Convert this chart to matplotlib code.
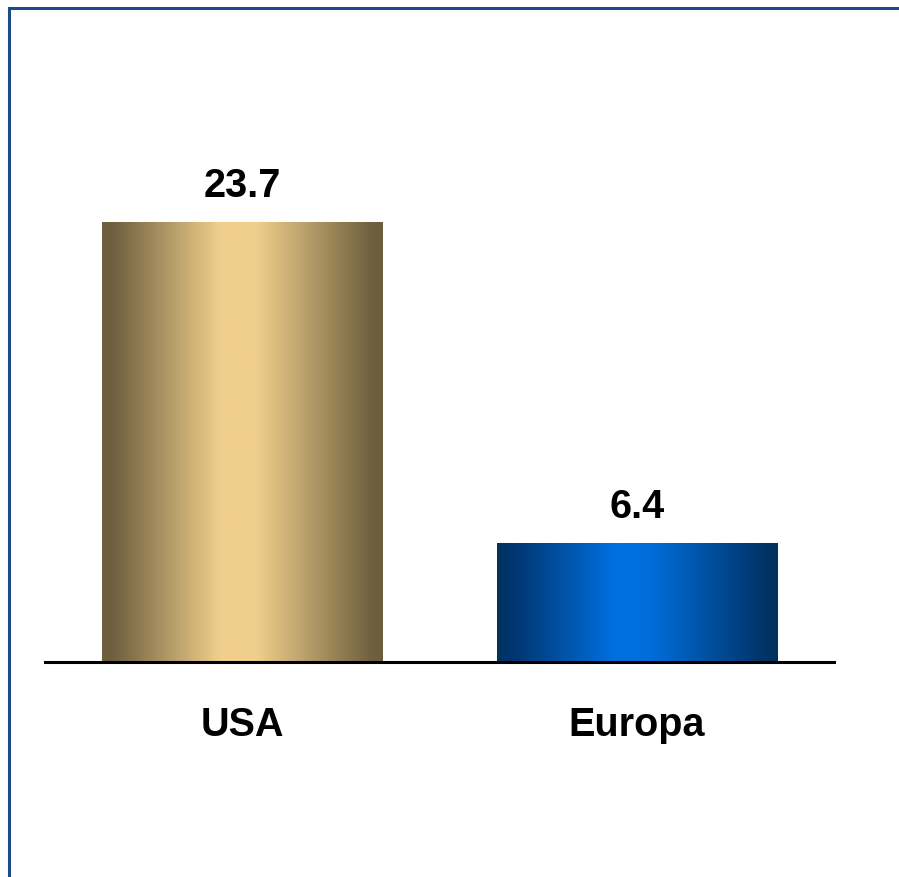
import numpy as np
import matplotlib
matplotlib.use('Agg')
import matplotlib.pyplot as plt
from matplotlib.colors import LinearSegmentedColormap
from matplotlib.patches import Rectangle

plt.rcParams['font.family'] = ['Liberation Sans', 'DejaVu Sans']

regions = ['USA', 'Europa']
values = [23.7, 6.4]
labels = ['23.7', '6.4']

W, H = 899, 877
fig = plt.figure(figsize=(W / 100, H / 100), dpi=100)

# axes placed in pixel terms: baseline at y=662, spans x 45..834
ax_left, ax_right = 45, 834
ax_top, ax_bottom = 8, 662
ax = fig.add_axes([ax_left / W, (H - ax_bottom) / H, (ax_right - ax_left) / W, (ax_bottom - ax_top) / H])

gold = LinearSegmentedColormap.from_list('gold', [
    (0.0, '#6d5e3d'), (0.04, '#6f603f'), (0.42, '#f0cf8c'),
    (0.55, '#f0cf8c'), (0.96, '#6f603f'), (1.0, '#6d5e3d')])
blue = LinearSegmentedColormap.from_list('blue', [
    (0.0, '#00315f'), (0.06, '#003670'), (0.42, '#0070e0'),
    (0.55, '#006ddb'), (0.95, '#003468'), (1.0, '#00315f')])
cmaps = [gold, blue]

x = np.arange(len(regions))
width = 0.71
bars = ax.bar(x, values, width=width, color='none', edgecolor='none', zorder=2)

grad = np.linspace(0, 1, 512).reshape(1, -1)
for b, cm in zip(bars, cmaps):
    x0, y0 = b.get_x(), b.get_y()
    im = ax.imshow(grad, cmap=cm, aspect='auto', zorder=2, interpolation='bilinear',
                   extent=[x0, x0 + b.get_width(), y0, y0 + b.get_height()])
    im.set_clip_path(b)

for xi, v, lab in zip(x, values, labels):
    ax.annotate(lab, (xi, v), xytext=(0, 18), textcoords='offset points',
                ha='center', va='baseline', fontsize=28.5, fontweight='bold')

ax.set_xlim(-0.5, 1.5)
ax.set_ylim(0, 23.7 * (ax_bottom - ax_top) / 440)
ax.set_xticks(x)
ax.set_xticklabels(regions, fontsize=28.5, fontweight='bold')
ax.tick_params(axis='x', length=0, pad=32)
ax.set_yticks([])
for s in ['top', 'right', 'left']:
    ax.spines[s].set_visible(False)
ax.spines['bottom'].set_linewidth(2.2)
ax.spines['bottom'].set_color('black')
ax.patch.set_alpha(0)

# frame: only top and left edges visible in the picture
fig.patches.append(Rectangle((9 / W, -0.1), 1.2, (H - 8) / H + 0.1,
                             transform=fig.transFigure, fill=False,
                             edgecolor='#1f4a86', linewidth=2.2))

fig.savefig('out.png', dpi=100)
